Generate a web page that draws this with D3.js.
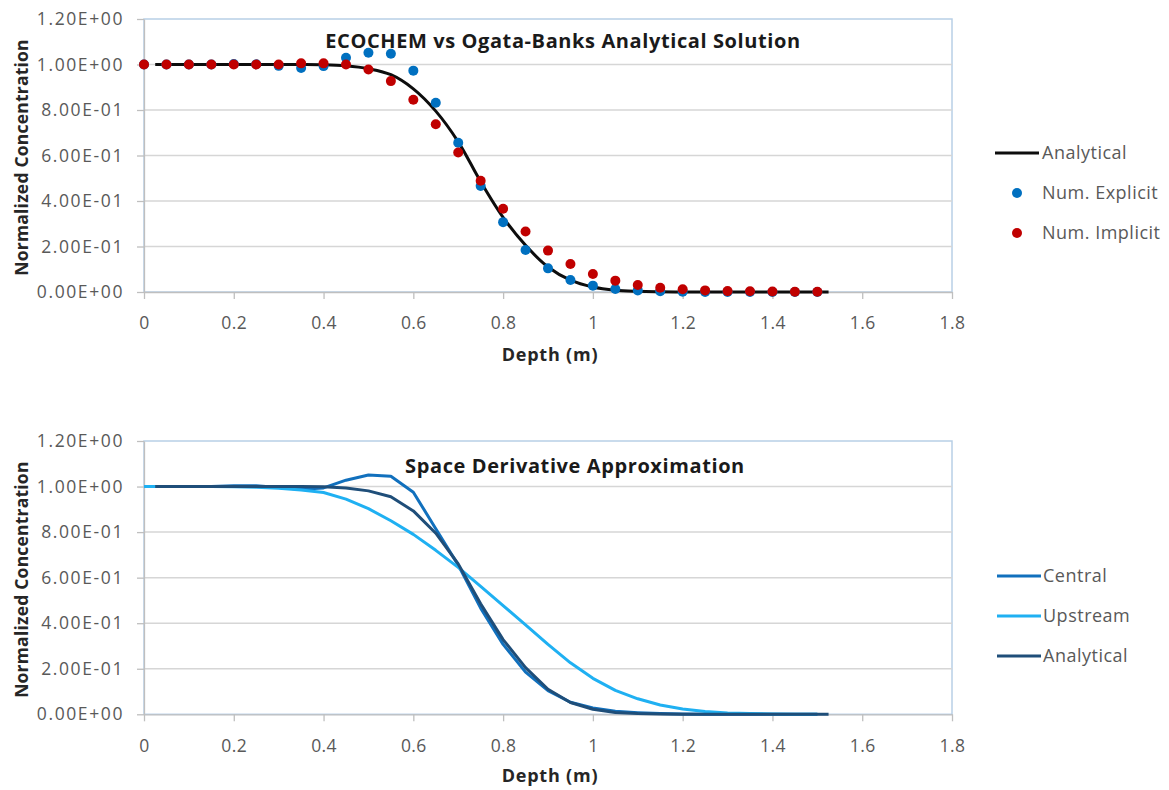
<!DOCTYPE html>
<html>
<head>
<meta charset="utf-8">
<script src="https://cdn.jsdelivr.net/npm/d3@7/dist/d3.min.js"></script>
<style>
  html, body { margin: 0; padding: 0; background: #fff; }
  svg { display: block; font-family: "Open Sans", "Noto Sans", sans-serif; }
</style>
</head>
<body>
<svg id="chart" width="1169" height="790"></svg>
<script>
// ---- Data -------------------------------------------------------------
// Depth of the numerical nodes (m)
const depthNodes = [0, 0.05, 0.1, 0.15, 0.2, 0.25, 0.3, 0.35, 0.4, 0.45, 0.5,
  0.55, 0.6, 0.65, 0.7, 0.75, 0.8, 0.85, 0.9, 0.95, 1.0, 1.05, 1.1, 1.15, 1.2,
  1.25, 1.3, 1.35, 1.4, 1.45, 1.5];

// Explicit scheme (normalized concentration)
const explicitVals = [1.0, 1.0, 1.0, 1.0, 1.002, 1.001, 0.994, 0.985, 0.993, 1.03, 1.052,
  1.047, 0.973, 0.832, 0.656, 0.466, 0.307, 0.185, 0.104, 0.053, 0.028, 0.013, 0.007, 0.003, 0.001,
  0.0005, 0.0002, 0.0001, 0, 0, 0];

// Implicit scheme
const implicitVals = [1.0, 1.0, 1.0, 1.0, 1.0, 1.0, 1.0, 1.005, 1.005, 1.0, 0.978,
  0.927, 0.845, 0.737, 0.613, 0.489, 0.366, 0.266, 0.182, 0.123, 0.079, 0.05, 0.031, 0.019, 0.012,
  0.007, 0.004, 0.003, 0.002, 0.001, 0.001];

// Ogata-Banks analytical solution
const analyticDepth = [0.025, 0.05, 0.1, 0.15, 0.2, 0.25, 0.3, 0.35, 0.4, 0.45, 0.5,
  0.55, 0.6, 0.65, 0.7, 0.75, 0.8, 0.85, 0.9, 0.95, 1.0, 1.05, 1.1, 1.15, 1.2,
  1.25, 1.3, 1.35, 1.4, 1.45, 1.5, 1.525];
const analyticVals = [1.0, 1.0, 1.0, 1.0, 1.0, 1.0, 1.0, 1.0, 0.999, 0.994, 0.981,
  0.955, 0.893, 0.795, 0.66, 0.485, 0.328, 0.205, 0.11, 0.052, 0.022, 0.008, 0.003, 0.001, 0,
  0, 0, 0, 0, 0, 0, 0];

// Space derivative approximations
const centralVals = [1.0, 1.0, 1.0, 1.0, 1.003, 1.003, 0.996, 0.988, 0.994, 1.028, 1.051,
  1.045, 0.975, 0.815, 0.655, 0.466, 0.307, 0.185, 0.104, 0.053, 0.028, 0.013, 0.007, 0.003, 0.001,
  0.0005, 0.0002, 0.0001, 0, 0, 0];
const upstreamVals = [1.0, 1.0, 1.0, 1.0, 0.999, 0.997, 0.992, 0.985, 0.974, 0.945, 0.903,
  0.85, 0.79, 0.72, 0.645, 0.562, 0.477, 0.393, 0.307, 0.226, 0.158, 0.105, 0.068, 0.041, 0.023,
  0.012, 0.006, 0.003, 0.0015, 0.0007, 0.0003];

// Axis ticks
const xTicks = [0, 0.2, 0.4, 0.6, 0.8, 1.0, 1.2, 1.4, 1.6, 1.8];
const xTickLabels = ["0", "0.2", "0.4", "0.6", "0.8", "1", "1.2", "1.4", "1.6", "1.8"];
const yTicks = [0, 0.2, 0.4, 0.6, 0.8, 1.0, 1.2];
const yTickLabels = ["0.00E+00", "2.00E-01", "4.00E-01", "6.00E-01", "8.00E-01", "1.00E+00", "1.20E+00"];

// ---- Drawing ----------------------------------------------------------
const svg = d3.select("#chart");
const x = d3.scaleLinear().domain([0, 1.8]).range([144, 952]);

const TEXT = "#595959";
const GRID = "#d6d6d6";
const AXIS = "#bfbfbf";
const FRAME = "#b8cfe6";

function panel(yBottom, yTop, title, titleX, titleY, xTitleY) {
  const y = d3.scaleLinear().domain([0, 1.2]).range([yBottom, yTop]);
  const g = svg.append("g");

  // plot-area frame
  g.append("rect")
    .attr("x", x(0)).attr("y", y(1.2))
    .attr("width", x(1.8) - x(0)).attr("height", y(0) - y(1.2))
    .attr("fill", "none").attr("stroke", FRAME).attr("stroke-width", 1.5);

  // horizontal gridlines
  g.append("g").selectAll("line")
    .data(yTicks.filter(v => v > 0 && v < 1.2))
    .join("line")
    .attr("x1", x(0)).attr("x2", x(1.8))
    .attr("y1", d => y(d)).attr("y2", d => y(d))
    .attr("stroke", GRID).attr("stroke-width", 1.5);

  // y axis
  const ya = g.append("g").attr("transform", `translate(${x(0)},0)`)
    .call(d3.axisLeft(y).tickValues(yTicks)
      .tickFormat((d, i) => yTickLabels[i]).tickSize(7).tickPadding(13).tickSizeOuter(0));
  ya.select(".domain").attr("stroke", AXIS).attr("stroke-width", 1.3);
  ya.selectAll(".tick line").attr("stroke", AXIS).attr("stroke-width", 1.3);
  ya.selectAll(".tick text").attr("fill", TEXT).attr("font-size", 17.5)
    .attr("letter-spacing", 1.6).attr("font-family", "Open Sans");

  // x axis
  const xa = g.append("g").attr("transform", `translate(0,${y(0)})`)
    .call(d3.axisBottom(x).tickValues(xTicks)
      .tickFormat((d, i) => xTickLabels[i]).tickSize(7).tickPadding(18).tickSizeOuter(0));
  xa.select(".domain").attr("stroke", AXIS).attr("stroke-width", 1.3);
  xa.selectAll(".tick line").attr("stroke", AXIS).attr("stroke-width", 1.3);
  xa.selectAll(".tick text").attr("fill", TEXT).attr("font-size", 17.5)
    .attr("letter-spacing", 0.4).attr("font-family", "Open Sans");

  // titles
  g.append("text").attr("x", titleX).attr("y", titleY)
    .attr("text-anchor", "middle").attr("font-size", 20).attr("font-weight", 700)
    .attr("letter-spacing", 0.6).attr("fill", "#1a1a1a").text(title);
  g.append("text").attr("x", 550).attr("y", xTitleY)
    .attr("text-anchor", "middle").attr("font-size", 18).attr("font-weight", 700)
    .attr("letter-spacing", 0.8).attr("fill", "#262626").text("Depth (m)");
  g.append("text")
    .attr("transform", `translate(28,${(y(0) + y(1.2)) / 2 + 2}) rotate(-90)`)
    .attr("text-anchor", "middle").attr("font-size", 17.5).attr("font-weight", 700)
    .attr("letter-spacing", 0.2).attr("fill", "#262626").text("Normalized Concentration");

  return { g, y };
}

// ---- Top panel: ECOCHEM vs analytical ----
{
  const { g, y } = panel(292, 19, "ECOCHEM vs Ogata-Banks Analytical Solution", 563, 48, 361);
  const line = d3.line().x(d => x(d[0])).y(d => y(d[1])).curve(d3.curveCatmullRom);
  g.append("path")
    .datum(d3.zip(analyticDepth, analyticVals))
    .attr("d", line).attr("fill", "none")
    .attr("stroke", "#0d0d0d").attr("stroke-width", 3);

  g.append("g").selectAll("circle")
    .data(d3.zip(depthNodes, explicitVals))
    .join("circle")
    .attr("cx", d => x(d[0])).attr("cy", d => y(d[1])).attr("r", 5)
    .attr("fill", "#0070c0");
  g.append("g").selectAll("circle")
    .data(d3.zip(depthNodes, implicitVals))
    .join("circle")
    .attr("cx", d => x(d[0])).attr("cy", d => y(d[1])).attr("r", 5)
    .attr("fill", "#c00000");

  // legend
  const lg = svg.append("g");
  lg.append("line").attr("x1", 995).attr("x2", 1039).attr("y1", 153).attr("y2", 153)
    .attr("stroke", "#0d0d0d").attr("stroke-width", 3);
  lg.append("circle").attr("cx", 1017).attr("cy", 193).attr("r", 5).attr("fill", "#0070c0");
  lg.append("circle").attr("cx", 1017).attr("cy", 233).attr("r", 5).attr("fill", "#c00000");
  const labels = ["Analytical", "Num. Explicit", "Num. Implicit"];
  lg.selectAll("text").data(labels).join("text")
    .attr("x", 1042).attr("y", (d, i) => 153 + i * 40).attr("dy", "0.35em")
    .attr("font-size", 18).attr("letter-spacing", 0.5).attr("fill", TEXT).text(d => d);
}

// ---- Bottom panel: space derivative approximations ----
{
  const { g, y } = panel(714.3, 441, "Space Derivative Approximation", 575, 473, 782);
  const line = d3.line().x(d => x(d[0])).y(d => y(d[1]));
  const series = [
    { name: "Central", xs: depthNodes, vs: centralVals, color: "#1170bd" },
    { name: "Upstream", xs: depthNodes, vs: upstreamVals, color: "#1fb0f2" },
    { name: "Analytical", xs: analyticDepth, vs: analyticVals, color: "#1f4e79" }
  ];
  series.forEach(s => {
    g.append("path").datum(d3.zip(s.xs, s.vs))
      .attr("d", line).attr("fill", "none")
      .attr("stroke", s.color).attr("stroke-width", 3).attr("stroke-linejoin", "round");
  });

  const lg = svg.append("g");
  series.forEach((s, i) => {
    const ly = 576 + i * 40;
    lg.append("line").attr("x1", 997).attr("x2", 1041).attr("y1", ly).attr("y2", ly)
      .attr("stroke", s.color).attr("stroke-width", 3);
    lg.append("text").attr("x", 1043).attr("y", ly).attr("dy", "0.35em")
      .attr("font-size", 18).attr("letter-spacing", 0.5).attr("fill", TEXT).text(s.name);
  });
}
</script>
</body>
</html>
